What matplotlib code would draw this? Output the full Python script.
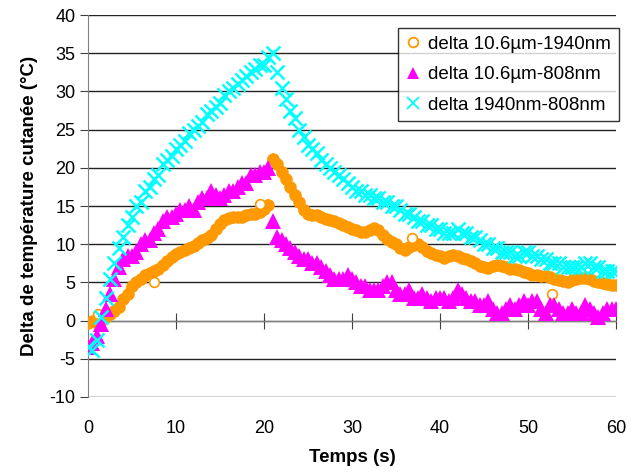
import numpy as np
import matplotlib.pyplot as plt
from matplotlib.lines import Line2D

plt.rcParams['font.family'] = ['Liberation Sans', 'DejaVu Sans']
plt.rcParams['axes.unicode_minus'] = False

# time axis (s), one sample every 0.5 s
temps = np.arange(0, 60.5, 0.5)

delta_106_1940 = [
    -0.3, 0.0, -0.3, 0.0, 0.5, 0.8, 1.2, 1.8, 2.8, 3.5,
    4.5, 5.0, 5.5, 6.0, 6.2, 6.5, 6.8, 7.3, 7.8, 8.3,
    8.7, 9.0, 9.2, 9.5, 9.8, 10.2, 10.5, 10.8, 11.2, 12.0,
    12.7, 13.2, 13.4, 13.5, 13.6, 13.6, 13.8, 14.0, 14.0, 14.2,
    14.6, 15.2, 21.2, 20.5, 19.5, 18.5, 17.5, 16.5, 15.5, 14.5,
    14.0, 13.8, 13.8, 13.5, 13.3, 13.2, 13.0, 12.8, 12.5, 12.2,
    12.0, 11.8, 11.6, 11.6, 11.9, 12.1, 11.8, 11.2, 10.7, 10.3,
    10.0, 9.5, 9.3, 9.6, 9.9, 10.0, 9.6, 9.1, 8.8, 8.6,
    8.4, 8.2, 8.4, 8.6, 8.4, 8.2, 8.0, 7.8, 7.5, 7.2,
    7.0, 6.9, 7.1, 7.3, 7.2, 7.0, 6.8, 6.7, 6.6, 6.4,
    6.2, 6.0, 6.0, 5.9, 5.8, 5.7, 5.5, 5.3, 5.2, 5.1,
    5.3, 5.5, 5.6, 5.6, 5.4, 5.2, 5.0, 4.9, 4.8, 4.7,
    4.6,
]

# a few isolated orange points off the main curve
outlier_t = [1.2, 7.5, 19.5, 36.8, 52.7]
outlier_v = [0.8, 5.0, 15.3, 10.8, 3.5]

delta_106_808 = [
    -3.5, -3.0, -2.0, -0.5, 1.5, 3.5, 5.5, 7.0, 8.0, 8.5,
    8.5, 9.0, 10.0, 10.5, 10.5, 11.5, 12.0, 13.0, 13.5, 13.5,
    14.0, 14.5, 14.5, 15.0, 14.5, 15.5, 16.0, 16.0, 17.0, 16.5,
    16.0, 16.5, 17.0, 17.0, 17.5, 18.0, 18.0, 19.0, 19.0, 19.5,
    19.5, 20.0, 13.0, 11.0, 10.5, 10.0, 9.5, 9.0, 8.5, 8.0,
    8.0, 7.5, 7.5, 7.0, 6.5, 6.0, 5.5, 5.5, 5.5, 6.0,
    5.5, 5.0, 4.5, 4.5, 4.0, 4.0, 4.0, 4.5, 5.0, 5.0,
    4.0, 3.5, 3.5, 4.0, 3.0, 3.0, 3.5, 3.0, 2.5, 3.0,
    3.0, 3.0, 2.5, 3.0, 4.0, 3.5, 3.0, 2.5, 2.5, 2.0,
    2.0, 2.5, 1.5, 1.0, 1.0, 1.5, 2.0, 1.5, 2.0, 2.5,
    2.0, 2.5, 2.5, 1.5, 1.0, 2.0, 2.0, 1.5, 1.0, 1.0,
    1.5, 1.0, 1.0, 2.0, 1.5, 1.0, 0.5, 1.0, 1.5, 1.5,
    1.5,
]

delta_1940_808 = [
    -3.5, -3.8, -2.5, 0.5, 3.0, 5.5, 7.5, 9.5, 11.0, 12.5,
    13.5, 15.0, 15.5, 17.0, 17.5, 18.5, 19.0, 20.5, 21.0, 21.5,
    22.5, 23.0, 23.5, 24.5, 25.0, 25.5, 26.0, 27.0, 27.5, 28.0,
    28.5, 29.5, 30.0, 30.5, 31.0, 31.5, 32.0, 32.5, 33.0, 33.5,
    33.5, 34.5, 35.0, 32.5, 30.5, 29.0, 27.5, 26.5, 25.0, 24.0,
    23.0, 22.5, 22.0, 21.0, 20.5, 20.0, 19.5, 19.0, 18.5, 18.0,
    17.5, 17.0, 17.0, 16.5, 16.5, 16.0, 16.0, 15.5, 15.5, 15.0,
    15.0, 14.5, 14.0, 14.0, 13.5, 13.0, 13.0, 12.5, 12.5, 12.0,
    12.0, 11.5, 11.5, 11.5, 12.0, 11.5, 11.5, 11.0, 11.0, 10.5,
    10.0, 10.0, 9.5, 9.5, 9.0, 9.0, 9.0, 8.5, 8.5, 9.0,
    9.0, 8.5, 8.5, 8.0, 8.0, 7.5, 7.5, 7.5, 7.0, 7.0,
    7.0, 7.0, 7.0, 7.5, 7.5, 7.0, 7.0, 6.5, 6.5, 6.5,
    6.5,
]

labels = ["delta 10.6\u00b5m-1940nm", "delta 10.6\u00b5m-808nm", "delta 1940nm-808nm"]
orange = "#FF9900"
magenta = "#FF00FF"
cyan = "#00FFFF"

fig = plt.figure(figsize=(6.37, 4.72), dpi=100)
ax = fig.add_axes([0.138, 0.159, 0.829, 0.809])

# orange curve: heating part and cooling part drawn separately (jump at 21 s)
peak = 42
ax.plot(temps[:peak], delta_106_1940[:peak], '-o', color=orange, lw=6, ms=8, mew=1, zorder=3)
ax.plot(temps[peak:], delta_106_1940[peak:], '-o', color=orange, lw=6, ms=8, mew=1, zorder=3)
ax.plot(outlier_t, outlier_v, 'o', mfc='white', mec=orange, ms=7, mew=1.2, zorder=3)
ax.plot(temps, delta_106_808, '^', color=magenta, ms=12, mew=0, zorder=4)
ax.plot(temps, delta_1940_808, 'x', color=cyan, ms=10, mew=1.8, zorder=5)

ax.set_xlim(0, 60)
ax.set_ylim(-10, 40)
ax.set_yticks(np.arange(-10, 41, 5))
ax.set_xticks(np.arange(0, 61, 10))

ax.grid(axis='y', color='#222222', lw=1)
ax.set_axisbelow(True)
for s in ['top', 'right']:
    ax.spines[s].set_visible(False)
ax.spines['left'].set_color('#808080')
ax.spines['bottom'].set_position(('data', 0))
ax.spines['bottom'].set_color('#808080')
ax.tick_params(axis='y', direction='out', length=6, color='#404040', labelsize=13, pad=3)
ax.tick_params(axis='x', direction='inout', length=12, color='#404040', labelbottom=False)

sec = ax.secondary_xaxis(-0.001)
sec.spines['bottom'].set_visible(False)
sec.set_xticks(np.arange(0, 61, 10))
sec.tick_params(axis='x', length=0, labelsize=13, pad=16)
sec.set_xlabel("Temps (s)", fontsize=13.5, fontweight='bold', labelpad=9)
ax.set_ylabel("Delta de temp\u00e9rature cutan\u00e9e (\u00b0C)", fontsize=13.5, fontweight='bold', labelpad=8)

handles = [
    Line2D([], [], ls='none', marker='o', mfc='none', mec=orange, ms=7, mew=1.3),
    Line2D([], [], ls='none', marker='^', color=magenta, ms=9, mew=0),
    Line2D([], [], ls='none', marker='x', color=cyan, ms=8, mew=1.3),
]
leg = ax.legend(handles, labels, loc='upper right', bbox_to_anchor=(1.005, 0.966),
                borderaxespad=0, fontsize=13.5, frameon=True, fancybox=False,
                edgecolor='black', handlelength=0.8, handletextpad=0.4,
                labelspacing=0.72, borderpad=0.4)
leg.get_frame().set_linewidth(1)
leg.set_zorder(10)

fig.savefig("out.png", dpi=100, facecolor='white')
